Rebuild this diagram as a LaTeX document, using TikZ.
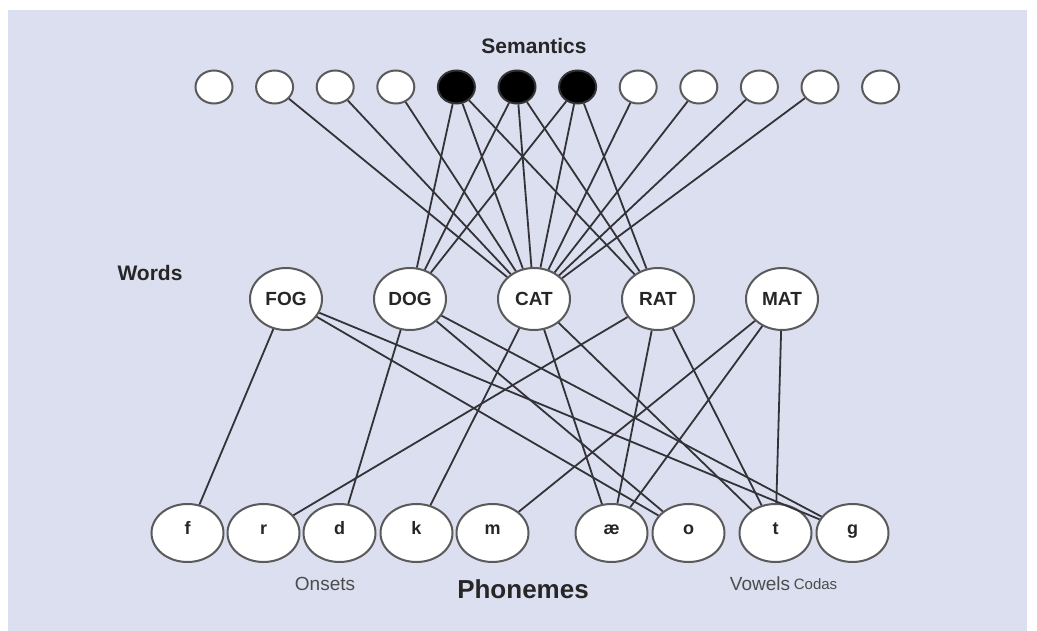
\documentclass[tikz,border=0pt]{standalone}
\usepackage{fontspec}
\setmainfont{Liberation Sans}
\usetikzlibrary{positioning,shapes.geometric}
\definecolor{paper}{RGB}{220,223,240}
\definecolor{rim}{RGB}{90,90,90}
\definecolor{wire}{RGB}{50,50,55}
\tikzset{
    sem/.style={ellipse,draw=rim,line width=2pt,fill=white,minimum width=37pt,minimum height=33pt,inner sep=0pt},
    active/.style={sem,fill=black,draw=black!80},
    word/.style={ellipse,draw=rim,line width=2pt,fill=white,minimum width=72pt,minimum height=62pt,inner sep=0pt,font=\bfseries\fontsize{19}{22}\selectfont,text=black!85},
    phon/.style={word,minimum height=58pt,text height=8pt,text depth=6pt,font=\bfseries\fontsize{18}{21}\selectfont},
    link/.style={-,line width=1.8pt,draw=wire},
    title/.style={font=\bfseries\fontsize{21}{25}\selectfont,text=black!85},
    group/.style={font=\fontsize{19}{22}\selectfont,text=black!70}
}

\begin{document}
\begin{tikzpicture}[x=1pt,y=1pt]
    \useasboundingbox (0,0) rectangle (1037,-631);
    \fill[paper] (8,-10) rectangle (1027,-631);

    % semantic features
    \node[sem] (s1) at (214,-87) {};
    \node[sem] (s2) [right=21.6pt of s1] {};
    \node[sem] (s3) [right=21.6pt of s2] {};
    \node[sem] (s4) [right=21.6pt of s3] {};
    \node[active] (s5) [right=21.6pt of s4] {};
    \node[active] (s6) [right=21.6pt of s5] {};
    \node[active] (s7) [right=21.6pt of s6] {};
    \node[sem] (s8) [right=21.6pt of s7] {};
    \node[sem] (s9) [right=21.6pt of s8] {};
    \node[sem] (s10) [right=21.6pt of s9] {};
    \node[sem] (s11) [right=21.6pt of s10] {};
    \node[sem] (s12) [right=21.6pt of s11] {};
    \node[title] (semantics) at (534,-46) {Semantics};

    % words
    \node[title] (words) at (150,-273) {Words};
    \node[word] (fog) at (286,-299) {FOG};
    \node[word] (dog) [right=50pt of fog] {DOG}
        edge[link] (s5)
        edge[link] (s6)
        edge[link] (s7);
    \node[word] (cat) [right=50pt of dog] {CAT}
        edge[link] (s2)
        edge[link] (s3)
        edge[link] (s4)
        edge[link] (s5)
        edge[link] (s6)
        edge[link] (s7)
        edge[link] (s8)
        edge[link] (s9)
        edge[link] (s10)
        edge[link] (s11);
    \node[word] (rat) [right=50pt of cat] {RAT}
        edge[link] (s5)
        edge[link] (s6)
        edge[link] (s7);
    \node[word] (mat) [right=50pt of rat] {MAT};

    % phonemes
    \node[phon] (f) at (187.5,-533) {f}
        edge[link] (fog);
    \node[phon] (r) [right=2pt of f] {r}
        edge[link] (rat);
    \node[phon] (d) [right=2pt of r] {d}
        edge[link] (dog);
    \node[phon] (k) [right=3pt of d] {k}
        edge[link] (cat);
    \node[phon] (m) [right=2pt of k] {m}
        edge[link] (mat);
    \node[phon] (ae) [right=45pt of m] {æ}
        edge[link] (cat)
        edge[link] (rat)
        edge[link] (mat);
    \node[phon] (o) [right=3pt of ae] {o}
        edge[link] (fog)
        edge[link] (dog);
    \node[phon] (t) [right=13pt of o] {t}
        edge[link] (cat)
        edge[link] (rat)
        edge[link] (mat);
    \node[phon] (g) [right=3pt of t] {g}
        edge[link] (fog)
        edge[link] (dog);

    \node[group] (onsets) at (325,-584) {Onsets};
    \node[title,font=\bfseries\fontsize{26}{30}\selectfont] (phonemes) at (523,-589) {Phonemes};
    \node[group] (vowels) at (760,-584) {Vowels};
    \node[group,font=\fontsize{15}{18}\selectfont,anchor=west,inner sep=0pt] (codas) [right=0pt of vowels] {Codas};
\end{tikzpicture}
\end{document}
